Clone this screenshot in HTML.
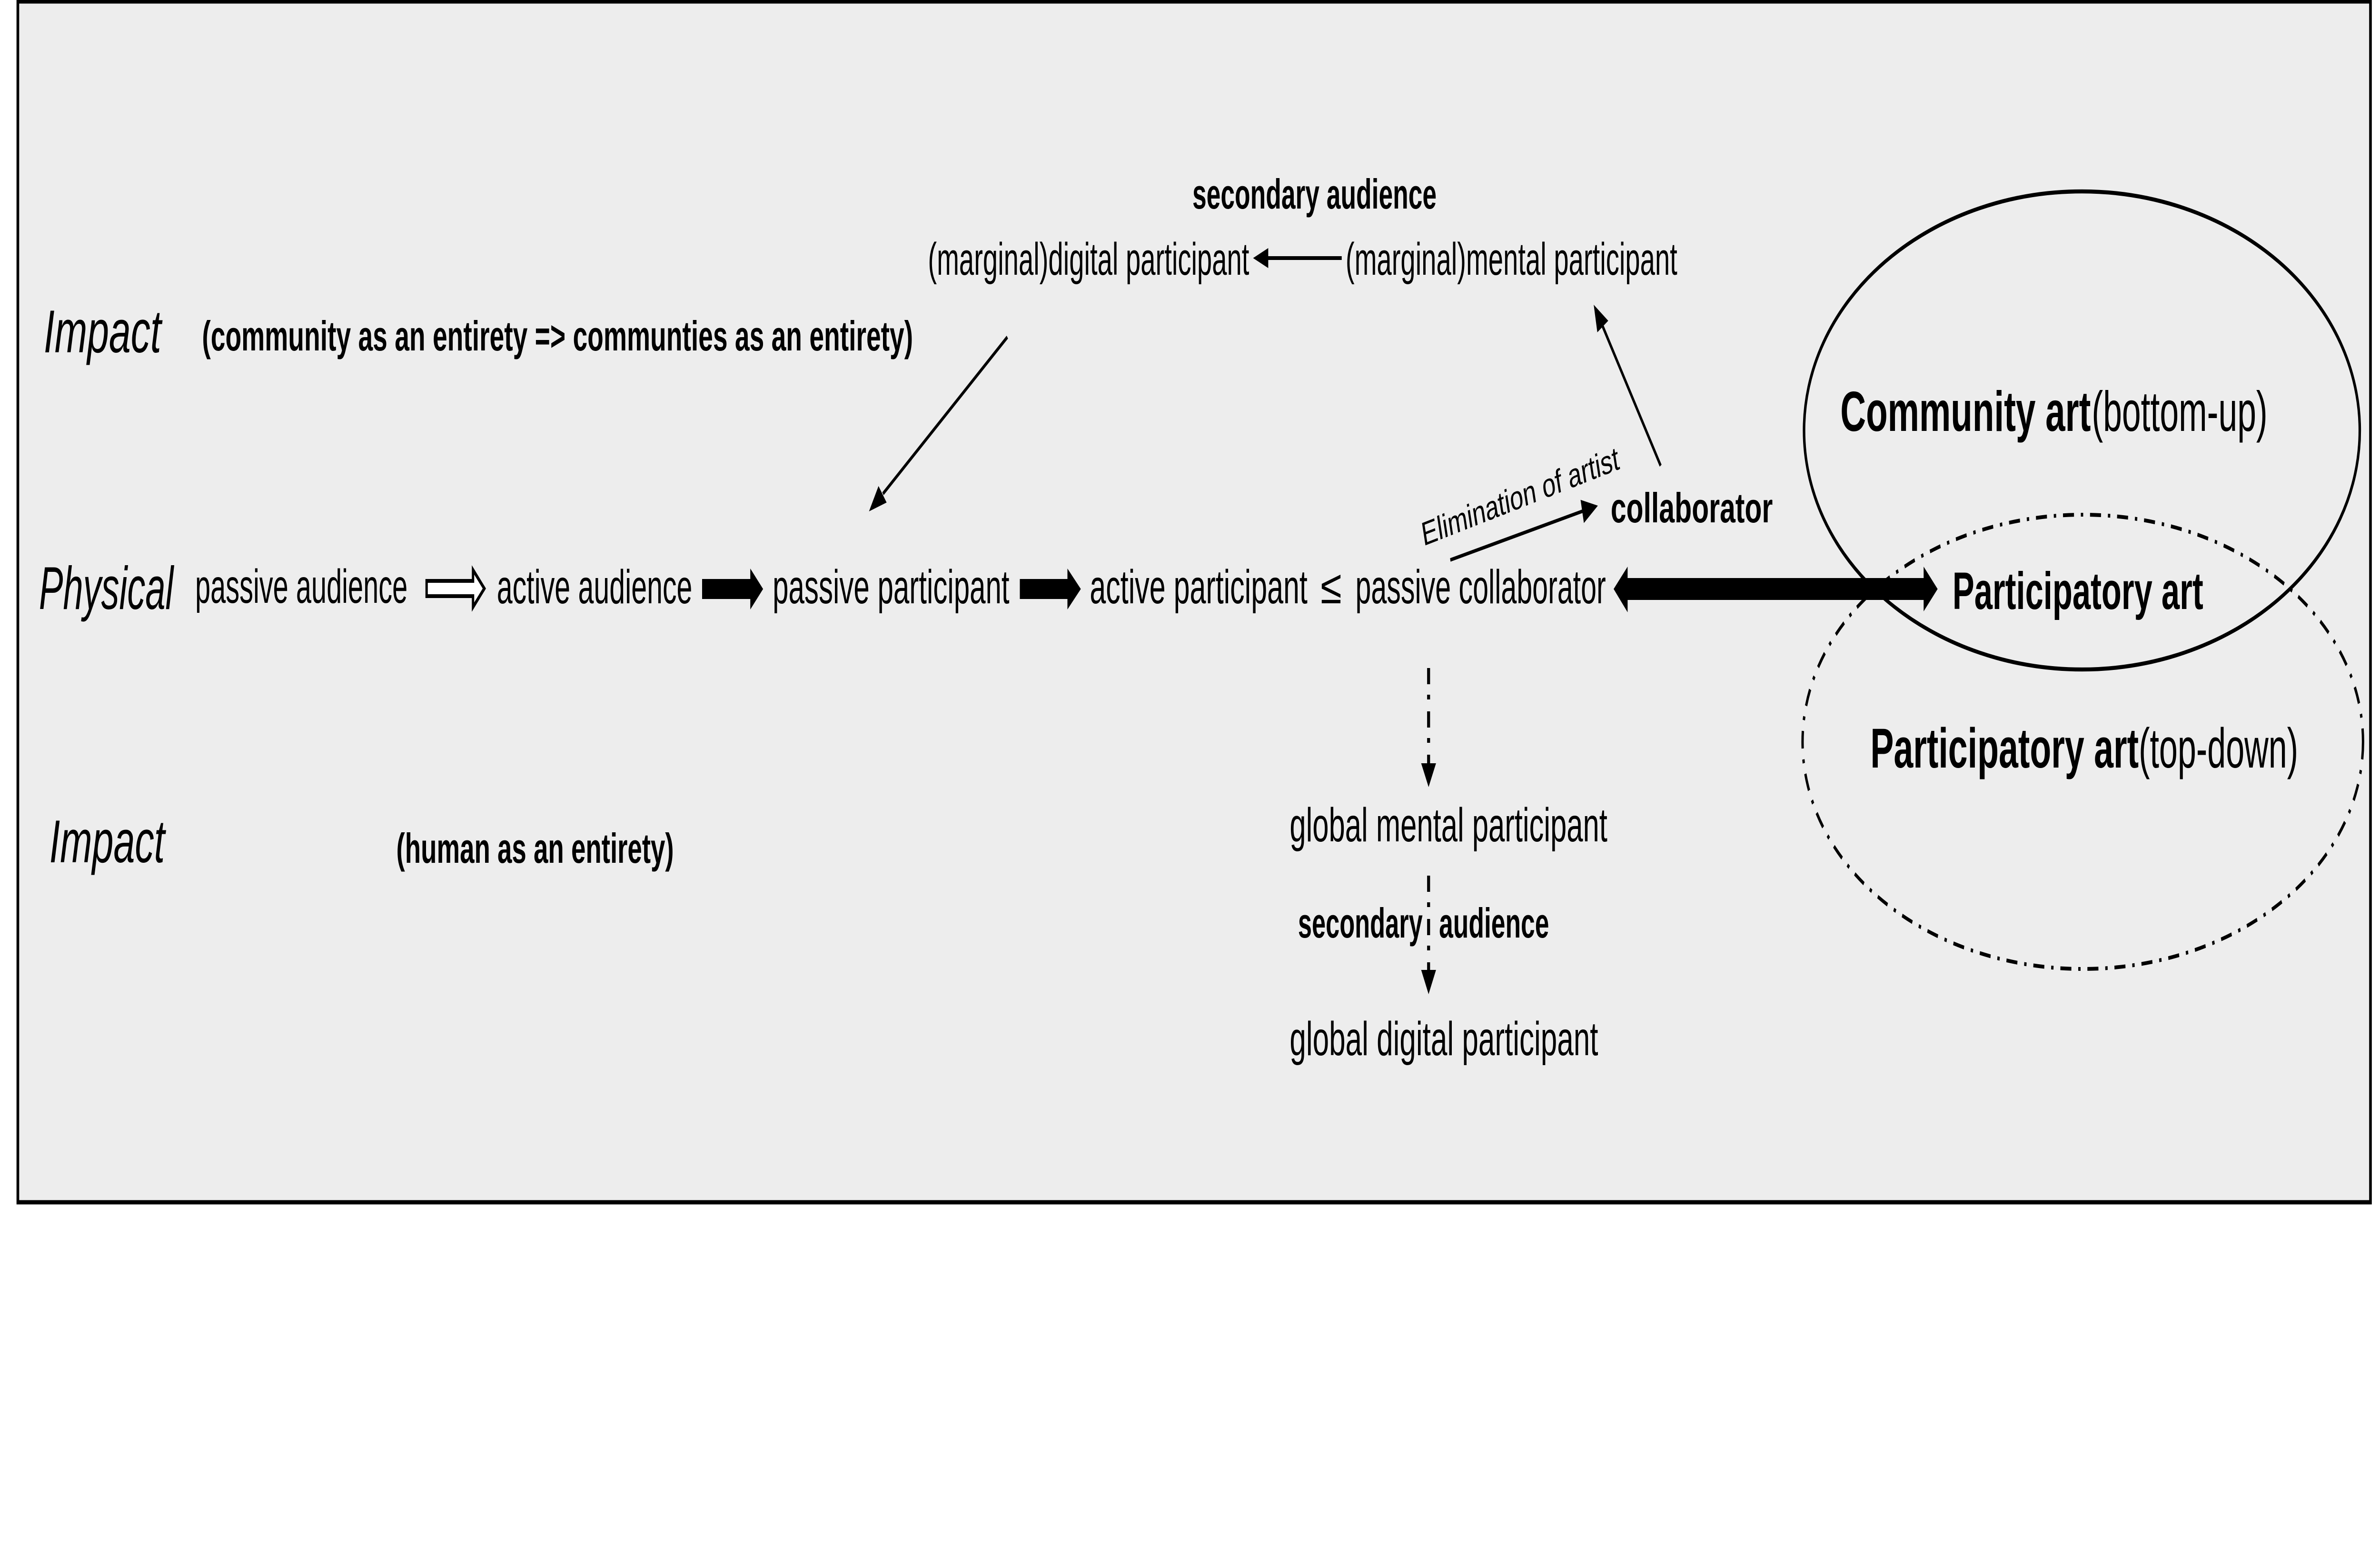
<!DOCTYPE html>
<html>
<head>
<meta charset="utf-8">
<style>
html,body{margin:0;padding:0;background:#fff;width:100%;height:100%;overflow:hidden;}
svg{display:block;width:100vw;height:100vh;}
text{fill:#000;}
</style>
</head>
<body>
<svg viewBox="0 0 8000 3270" preserveAspectRatio="none" xmlns="http://www.w3.org/2000/svg" font-family="'Liberation Sans', Arial, sans-serif">
<rect x="0" y="0" width="8000" height="3270" fill="#ffffff"/>
<rect x="60" y="3" width="7908" height="2522" fill="#ededed" stroke="#000" stroke-width="9"/>

<!-- Ellipses -->
<ellipse cx="6998" cy="904" rx="934" ry="502" fill="none" stroke="#000" stroke-width="8.5"/>
<ellipse cx="7001" cy="1558" rx="942" ry="477" fill="none" stroke="#000" stroke-width="8" stroke-dasharray="37 23 8 23"/>

<!-- Left labels -->
<text x="147" y="740" font-size="127" font-style="italic" textLength="395" lengthAdjust="spacingAndGlyphs">Impact</text>
<text x="679" y="736" font-size="88" font-weight="bold" textLength="2390" lengthAdjust="spacingAndGlyphs">(community as an entirety =&gt; communties as an entirety)</text>
<text x="131" y="1279" font-size="127" font-style="italic" textLength="452" lengthAdjust="spacingAndGlyphs">Physical</text>
<text x="166" y="1811" font-size="127" font-style="italic" textLength="388" lengthAdjust="spacingAndGlyphs">Impact</text>
<text x="1332" y="1812" font-size="88" font-weight="bold" textLength="933" lengthAdjust="spacingAndGlyphs">(human as an entirety)</text>

<!-- Physical row -->
<text x="656" y="1266" font-size="100" textLength="714" lengthAdjust="spacingAndGlyphs">passive audience</text>
<polygon points="1434,1220 1590,1220 1590,1197 1628,1236 1590,1275 1590,1252 1434,1252" fill="#fff" stroke="#000" stroke-width="8" stroke-linejoin="miter"/>
<text x="1670" y="1267" font-size="100" textLength="657" lengthAdjust="spacingAndGlyphs">active audience</text>
<polygon points="2360,1216 2522,1216 2522,1194 2565,1237 2522,1280 2522,1258 2360,1258" fill="#000"/>
<text x="2597" y="1267" font-size="100" textLength="796" lengthAdjust="spacingAndGlyphs">passive participant</text>
<polygon points="3428,1216 3588,1216 3588,1194 3633,1237 3588,1280 3588,1258 3428,1258" fill="#000"/>
<text x="3663" y="1267" font-size="100" textLength="732" lengthAdjust="spacingAndGlyphs">active participant</text>
<text x="4439" y="1267" font-size="100" textLength="71" lengthAdjust="spacingAndGlyphs">≤</text>
<text x="4556" y="1267" font-size="100" textLength="842" lengthAdjust="spacingAndGlyphs">passive collaborator</text>

<!-- Double arrow -->
<polygon points="5424,1237 5471,1190 5471,1214 6466,1214 6466,1190 6513,1237 6466,1284 6466,1260 5471,1260 5471,1286" fill="#000"/>
<text x="6563" y="1279" font-size="110" font-weight="bold" textLength="843" lengthAdjust="spacingAndGlyphs">Participatory art</text>

<!-- Ellipse labels -->
<text x="6186" y="905" font-size="119" font-weight="bold" textLength="842" lengthAdjust="spacingAndGlyphs">Community art</text>
<text x="7031" y="905" font-size="119" textLength="591" lengthAdjust="spacingAndGlyphs">(bottom-up)</text>
<text x="6287" y="1612" font-size="118" font-weight="bold" textLength="902" lengthAdjust="spacingAndGlyphs">Participatory art</text>
<text x="7189" y="1612" font-size="118" textLength="536" lengthAdjust="spacingAndGlyphs">(top-down)</text>

<!-- Top middle -->
<text x="4008" y="438" font-size="88" font-weight="bold" textLength="821" lengthAdjust="spacingAndGlyphs">secondary audience</text>
<text x="3119" y="577" font-size="96" textLength="1080" lengthAdjust="spacingAndGlyphs">(marginal)digital participant</text>
<text x="4523" y="577" font-size="96" textLength="1115" lengthAdjust="spacingAndGlyphs">(marginal)mental participant</text>
<line x1="4510" y1="542" x2="4258" y2="542" stroke="#000" stroke-width="8"/>
<polygon points="4212,542 4263,521 4263,563" fill="#000"/>

<!-- Diagonal arrow to passive participant -->
<line x1="3386" y1="708" x2="2968" y2="1037" stroke="#000" stroke-width="7.5"/>
<polygon points="2921,1074 2953.0,1020.8 2980.2,1055.4" fill="#000"/>

<!-- collaborator -> mental participant -->
<line x1="5582" y1="978" x2="5385" y2="682" stroke="#000" stroke-width="7.5"/>
<polygon points="5357,640 5405.8,673.6 5369.2,698.0" fill="#000"/>

<!-- Elimination arrow -->
<line x1="4875" y1="1176" x2="5322" y2="1073" stroke="#000" stroke-width="7.5"/>
<polygon points="5371,1062 5324.0,1098.5 5312.8,1049.7" fill="#000"/>
<text x="4785" y="1147" font-size="70" textLength="681" lengthAdjust="spacingAndGlyphs" transform="rotate(-13.8 4785 1147)">Elimination of artist</text>
<text x="5414" y="1097" font-size="88" font-weight="bold" textLength="545" lengthAdjust="spacingAndGlyphs">collaborator</text>

<!-- Vertical dash-dot arrows -->
<line x1="4802" y1="1403" x2="4802" y2="1604" stroke="#000" stroke-width="10" stroke-dasharray="34 22 10 25"/>
<polygon points="4777,1603 4827,1603 4802,1653" fill="#000"/>
<text x="4335" y="1767" font-size="100" textLength="1068" lengthAdjust="spacingAndGlyphs">global mental participant</text>
<line x1="4802" y1="1839" x2="4802" y2="2038" stroke="#000" stroke-width="10" stroke-dasharray="34 22 10 25"/>
<polygon points="4777,2037 4827,2037 4802,2088" fill="#000"/>
<text x="4363" y="1969" font-size="88" font-weight="bold" textLength="419" lengthAdjust="spacingAndGlyphs">secondary</text>
<text x="4837" y="1969" font-size="88" font-weight="bold" textLength="370" lengthAdjust="spacingAndGlyphs">audience</text>
<text x="4335" y="2216" font-size="100" textLength="1037" lengthAdjust="spacingAndGlyphs">global digital participant</text>
</svg>
</body>
</html>
